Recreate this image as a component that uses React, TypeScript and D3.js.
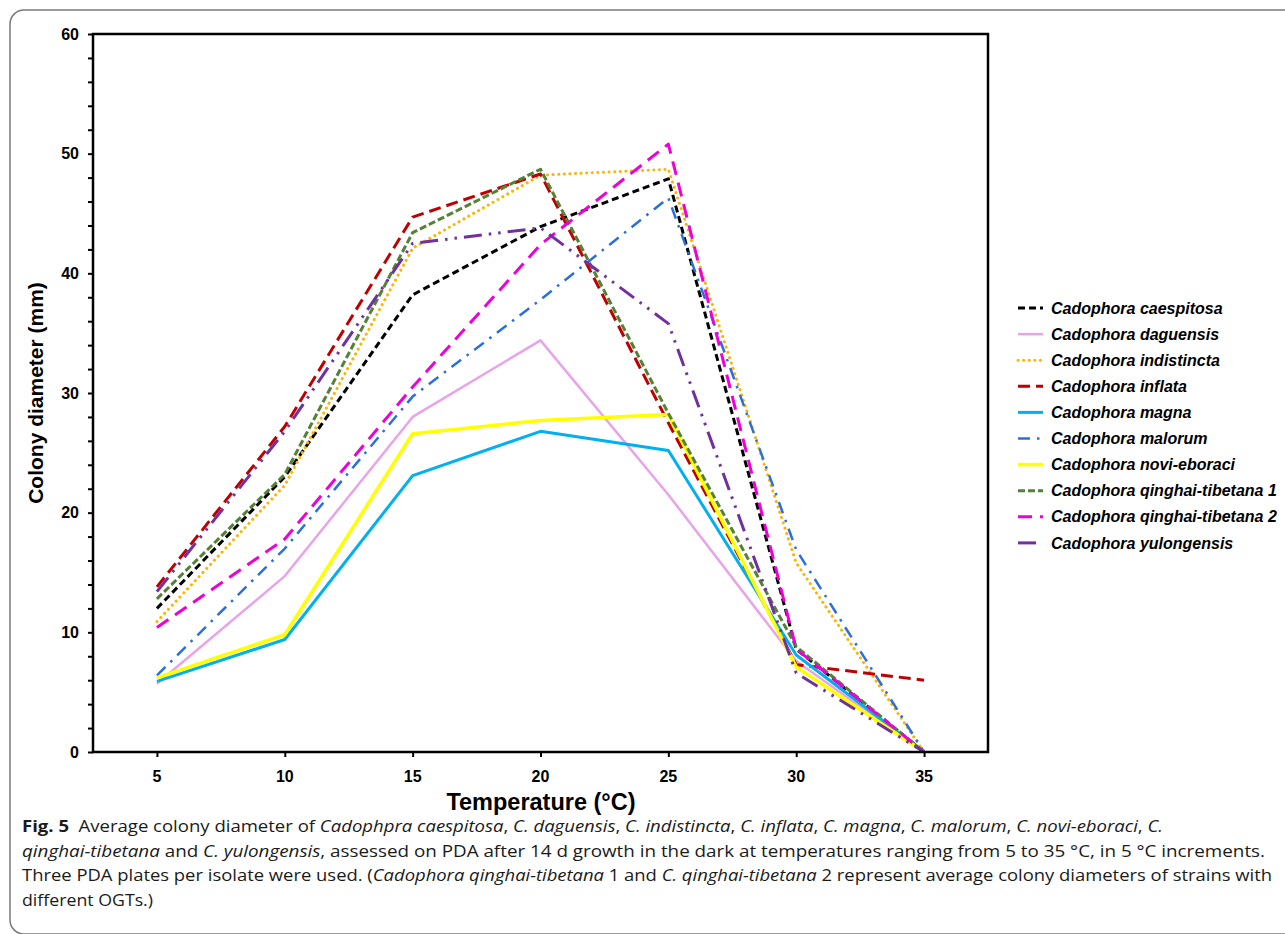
import React, { useEffect, useRef } from 'react';
import * as d3 from 'd3';

// temperatures (°C) on the x axis
const temps = [5, 10, 15, 20, 25, 30, 35];

// average colony diameter (mm) per species
const caespitosa = [12.0, 23.0, 38.2, 43.9, 47.9, 8.6, 0];
const daguensis = [5.7, 14.7, 28.0, 34.4, 21.5, 7.6, 0];
const indistincta = [10.9, 22.3, 42.1, 48.2, 48.7, 15.8, 0];
const inflata = [13.8, 27.2, 44.7, 48.3, 27.5, 7.3, 6.0];
const magna = [5.9, 9.4, 23.1, 26.8, 25.2, 8.1, 0];
const malorum = [6.4, 17.0, 29.7, 37.8, 46.3, 16.9, 0];
const noviEboraci = [6.2, 9.8, 26.6, 27.7, 28.2, 7.1, 0];
const qinghai1 = [12.8, 23.2, 43.4, 48.7, 28.3, 8.8, 0];
const qinghai2 = [10.4, 17.8, 30.5, 42.4, 50.8, 8.6, 0];
const yulongensis = [13.4, 26.8, 42.5, 43.8, 35.8, 6.6, 0];

const xTicks = [5, 10, 15, 20, 25, 30, 35];
const yTicks = [0, 10, 20, 30, 40, 50, 60];

const series = [
    { name: 'Cadophora caespitosa', values: caespitosa, color: '#000000', width: 3, dash: '7,4', cap: 'butt' },
    { name: 'Cadophora daguensis', values: daguensis, color: '#E9A3E9', width: 2.5, dash: null, cap: 'butt' },
    { name: 'Cadophora indistincta', values: indistincta, color: '#FFB300', width: 3, dash: '0.1,5.5', cap: 'round' },
    { name: 'Cadophora inflata', values: inflata, color: '#C00000', width: 3, dash: '12,6', cap: 'butt' },
    { name: 'Cadophora magna', values: magna, color: '#00B0F0', width: 3, dash: null, cap: 'butt' },
    { name: 'Cadophora malorum', values: malorum, color: '#2A6FDB', width: 2.5, dash: '12,7,2.5,7', cap: 'butt' },
    { name: 'Cadophora novi-eboraci', values: noviEboraci, color: '#FFFF00', width: 3.5, dash: null, cap: 'butt' },
    { name: 'Cadophora qinghai-tibetana 1', values: qinghai1, color: '#548235', width: 3, dash: '7,3', cap: 'butt' },
    { name: 'Cadophora qinghai-tibetana 2', values: qinghai2, color: '#EE00D8', width: 3, dash: '14,8', cap: 'butt' },
    { name: 'Cadophora yulongensis', values: yulongensis, color: '#7030A0', width: 3, dash: '18,7,2.5,7,2.5,7', cap: 'butt' },
];

const W = 1285;
const H = 934;
const plot = { left: 93, top: 34, right: 988, bottom: 752 };
const bold = "'Liberation Sans', Arial, sans-serif";

const App = () => {
    const svgRef = useRef<SVGSVGElement | null>(null);

    useEffect(() => {
        if (!svgRef.current) return;
        const svg = d3.select(svgRef.current);
        svg.selectAll('*').remove();

        // outer rounded frame of the figure (runs off the right and bottom edges)
        svg.append('rect')
            .attr('x', 10).attr('y', 10)
            .attr('width', 1320).attr('height', 924)
            .attr('rx', 14)
            .attr('fill', 'none')
            .attr('stroke', '#7a7a7a')
            .attr('stroke-width', 1.5);

        const x = d3.scaleLinear().domain([2.5, 37.5]).range([plot.left, plot.right]);
        const y = d3.scaleLinear().domain([0, 60]).range([plot.bottom, plot.top]);

        const g = svg.append('g');

        // y axis: minor ticks every 2 mm, labels every 10
        const yAxis = g.append('g')
            .attr('transform', `translate(${plot.left},0)`)
            .call(d3.axisLeft(y).tickValues(d3.range(0, 61, 2)).tickSize(5).tickFormat(() => ''));
        yAxis.select('.domain').remove();
        yAxis.selectAll('line').attr('stroke', '#000').attr('stroke-width', 2);

        g.selectAll('.ylab')
            .data(yTicks)
            .enter()
            .append('text')
            .attr('x', plot.left - 14)
            .attr('y', d => y(d))
            .attr('dy', '0.35em')
            .attr('text-anchor', 'end')
            .style('font-family', bold)
            .style('font-weight', 'bold')
            .style('font-size', '16px')
            .text(d => d);

        // x axis ticks
        const xAxis = g.append('g')
            .attr('transform', `translate(0,${plot.bottom})`)
            .call(d3.axisBottom(x).tickValues(xTicks).tickSize(5).tickFormat(() => ''));
        xAxis.select('.domain').remove();
        xAxis.selectAll('line').attr('stroke', '#000').attr('stroke-width', 2);

        g.selectAll('.xlab')
            .data(xTicks)
            .enter()
            .append('text')
            .attr('x', d => x(d))
            .attr('y', plot.bottom + 30)
            .attr('text-anchor', 'middle')
            .style('font-family', bold)
            .style('font-weight', 'bold')
            .style('font-size', '16px')
            .text(d => d);

        // series lines
        const line = d3.line<number>()
            .x((_, i) => x(temps[i]))
            .y(d => y(d));

        series.forEach(s => {
            g.append('path')
                .datum(s.values)
                .attr('d', line)
                .attr('fill', 'none')
                .attr('stroke', s.color)
                .attr('stroke-width', s.width)
                .attr('stroke-dasharray', s.dash)
                .attr('stroke-linecap', s.cap)
                .attr('stroke-linejoin', 'round');
        });

        // plot frame
        g.append('rect')
            .attr('x', plot.left).attr('y', plot.top)
            .attr('width', plot.right - plot.left)
            .attr('height', plot.bottom - plot.top)
            .attr('fill', 'none')
            .attr('stroke', '#000')
            .attr('stroke-width', 2.5);

        // axis titles
        svg.append('text')
            .attr('x', 541)
            .attr('y', 810)
            .attr('text-anchor', 'middle')
            .style('font-family', bold)
            .style('font-weight', 'bold')
            .style('font-size', '23.5px')
            .text('Temperature (°C)');

        svg.append('text')
            .attr('transform', `translate(43,393) rotate(-90)`)
            .attr('text-anchor', 'middle')
            .style('font-family', bold)
            .style('font-weight', 'bold')
            .style('font-size', '21px')
            .text('Colony diameter (mm)');

        // legend
        const legend = svg.append('g');
        series.forEach((s, i) => {
            const ly = 308 + i * 26.1;
            legend.append('line')
                .attr('x1', 1018).attr('x2', 1043)
                .attr('y1', ly).attr('y2', ly)
                .attr('stroke', s.color)
                .attr('stroke-width', s.width)
                .attr('stroke-dasharray', s.dash)
                .attr('stroke-linecap', s.cap);
            legend.append('text')
                .attr('x', 1051)
                .attr('y', ly)
                .attr('dy', '0.35em')
                .style('font-family', bold)
                .style('font-weight', 'bold')
                .style('font-style', 'italic')
                .style('font-size', '16px')
                .text(s.name);
        });

        // caption
        const captionLines: [string, string][][] = [
            [['b', 'Fig. 5'], ['n', '  Average colony diameter of '], ['i', 'Cadophpra caespitosa'], ['n', ', '],
             ['i', 'C. daguensis'], ['n', ', '], ['i', 'C. indistincta'], ['n', ', '], ['i', 'C. inflata'], ['n', ', '],
             ['i', 'C. magna'], ['n', ', '], ['i', 'C. malorum'], ['n', ', '], ['i', 'C. novi-eboraci'], ['n', ', '], ['i', 'C.']],
            [['i', 'qinghai-tibetana'], ['n', ' and '], ['i', 'C. yulongensis'],
             ['n', ', assessed on PDA after 14 d growth in the dark at temperatures ranging from 5 to 35 °C, in 5 °C increments.']],
            [['n', 'Three PDA plates per isolate were used. ('], ['i', 'Cadophora qinghai-tibetana'], ['n', ' 1 and '],
             ['i', 'C. qinghai-tibetana'], ['n', ' 2 represent average colony diameters of strains with']],
            [['n', 'different OGTs.)']],
        ];
        const lineWidths = [1141, 1243, 1250, 131];
        captionLines.forEach((parts, li) => {
            const t = svg.append('text')
                .attr('x', 22)
                .attr('y', 832 + li * 24.6)
                .attr('textLength', lineWidths[li])
                .attr('lengthAdjust', 'spacingAndGlyphs')
                .style('font-family', "'Open Sans', 'Noto Sans', sans-serif")
                .style('font-size', '16px')
                .style('fill', '#1a1a1a')
                .attr('xml:space', 'preserve');
            parts.forEach(([kind, txt]) => {
                t.append('tspan')
                    .style('font-weight', kind === 'b' ? 'bold' : 'normal')
                    .style('font-style', kind === 'i' ? 'italic' : 'normal')
                    .text(txt);
            });
        });
    }, []);

    return (
        <svg
            ref={svgRef}
            width={W}
            height={H}
            style={{ position: 'absolute', left: 0, top: 0, background: '#fff' }}
        />
    );
};

export default App;
